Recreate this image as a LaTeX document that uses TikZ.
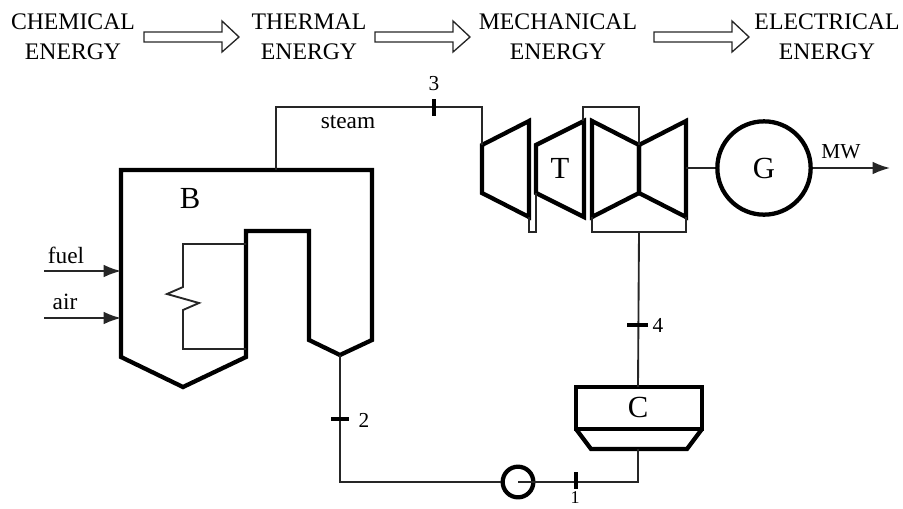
\documentclass[tikz,border=0pt]{standalone}
\usepackage{fontspec}
\setmainfont{Liberation Serif}
\usetikzlibrary{arrows.meta}
\tikzset{
  thinline/.style={line width=1.4pt,black!85,line join=miter},
  thickline/.style={line width=3.2pt,black,line join=miter},
  tickmark/.style={line width=2.8pt,black},
  blockarrow/.style={line width=1pt,black!85,line join=miter},
  lab/.style={inner sep=0pt,font=\fontsize{17.8}{20}\selectfont,align=center},
  small/.style={inner sep=0pt,font=\fontsize{17.5}{18}\selectfont},
  digit/.style={inner sep=0pt,font=\fontsize{16}{18}\selectfont},
  big/.style={inner sep=0pt,font=\fontsize{23}{24}\selectfont},
  flow/.style={thinline,-{Latex[length=13pt,width=9.5pt]}}
}
\newcommand{\blockarr}[2]{%
  \draw[blockarrow] (#1,32) -- (#2-17,32) -- (#2-17,21) -- (#2,37) -- (#2-17,52) -- (#2-17,42) -- (#1,42) -- cycle;}
\begin{document}
\begin{tikzpicture}[x=0.75pt,y=-0.75pt]
\useasboundingbox (0,0) rectangle (903,508);
% top labels
\node[lab] (chem) at (73,37) {CHEMICAL\\[2.5pt]ENERGY};
\node[lab] (therm) at (309,37) {THERMAL\\[2.5pt]ENERGY};
\node[lab] (mech) at (558,37) {MECHANICAL\\[2.5pt]ENERGY};
\node[lab] (elec) at (827,37) {ELECTRICAL\\[2.5pt]ENERGY};
\blockarr{144}{239}
\blockarr{375}{470}
\blockarr{654}{749}
% boiler
\draw[thickline] (121,170) -- (372,170) -- (372,340) -- (340,355) -- (309,340) -- (309,231) -- (246,231) -- (246,357) -- (183,387) -- (121,357) -- cycle;
\coordinate (boilertop) at (276,170);
\coordinate (boilerout) at (340,355);
\draw[thinline] (246,244) -- (183,244) -- (183,287) -- (167,294) -- (199,303) -- (183,310) -- (183,349) -- (246,349);
\node[big] (B) at (190,198) {B};
% fuel / air
\coordinate (fuelstart) at (44,271);
\coordinate (fuelend) at (121,271);
\coordinate (airstart) at (44,318);
\coordinate (airend) at (121,318);
\draw[flow] (fuelstart) -- (fuelend);
\draw[flow] (airstart) -- (airend);
\node[small] (fuel) at (66,255) {fuel};
\node[small] (air) at (65,302) {air};
% turbines
\draw[thickline] (482,145) -- (529,121) -- (529,217) -- (482,193) -- cycle;
\draw[thickline] (536,145) -- (584,121) -- (584,217) -- (536,193) -- cycle;
\draw[thickline] (639,145) -- (592,121) -- (592,217) -- (639,193) -- cycle;
\draw[thickline] (639,145) -- (686,121) -- (686,217) -- (639,193) -- cycle;
\node[big] (T) at (560,168) {T};
\coordinate (hpin) at (482,145);
\coordinate (hpout) at (529,217);
\coordinate (ipin) at (536,193);
\coordinate (ipout) at (583,121);
\coordinate (lpin) at (639,145);
\coordinate (lpa) at (592,217);
\coordinate (lpb) at (686,217);
\coordinate (lpout) at (639,232);
% steam line
\draw[thinline] (boilertop) |- (482,107) -- (hpin);
\draw[thinline] (hpout) -- (529,232) -- (536,232) -- (ipin);
\draw[thinline] (ipout) -- (583,107) -- (639,107) -- (lpin);
\draw[thinline] (lpa) -- (592,232) -- (686,232) -- (lpb);
\node[small] (steam) at (348,122) {steam};
\coordinate (t3a) at (434,99);
\coordinate (t3b) at (434,116);
\draw[tickmark] (t3a) -- (t3b);
\node[digit] (n3) at (434,84) {3};
% generator
\node[draw,circle,line width=3.2pt,minimum size=70pt,inner sep=0pt,font=\fontsize{23}{24}\selectfont,black,text=black] (G) at (764,168) {G};
\draw[thinline] (686,168) -- (G.west);
\coordinate (mwend) at (890,168);
\draw[flow] (G.east) -- (mwend);
\node[digit] (MW) at (841,152) {MW};
% condenser
\draw[thickline] (576,387) rectangle (702,429);
\draw[thickline] (576,429) -- (591,449) -- (687,449) -- (702,429);
\node[big] (C) at (638,407) {C};
\coordinate (ctop) at (638,387);
\coordinate (cbot) at (638,449);
\draw[thinline] (lpout) -- (ctop);
\coordinate (t4a) at (627,325);
\coordinate (t4b) at (648,325);
\draw[tickmark] (t4a) -- (t4b);
\node[digit] (n4) at (658,325) {4};
% pump
\node[draw,circle,line width=3.2pt,minimum size=23pt,inner sep=0pt,black] (P) at (518,482) {};
\draw[thinline] (boilerout) -- (340,482) -- (P.west);
\draw[thinline] (P.center) -- (638,482) -- (cbot);
\coordinate (t2a) at (331,419);
\coordinate (t2b) at (349,419);
\draw[tickmark] (t2a) -- (t2b);
\node[digit] (n2) at (364,420) {2};
\coordinate (t1a) at (576,472);
\coordinate (t1b) at (576,489);
\draw[tickmark] (t1a) -- (t1b);
\node[inner sep=0pt,font=\fontsize{13.5}{14}\selectfont] (n1) at (575,497.5) {1};
\end{tikzpicture}
\end{document}
